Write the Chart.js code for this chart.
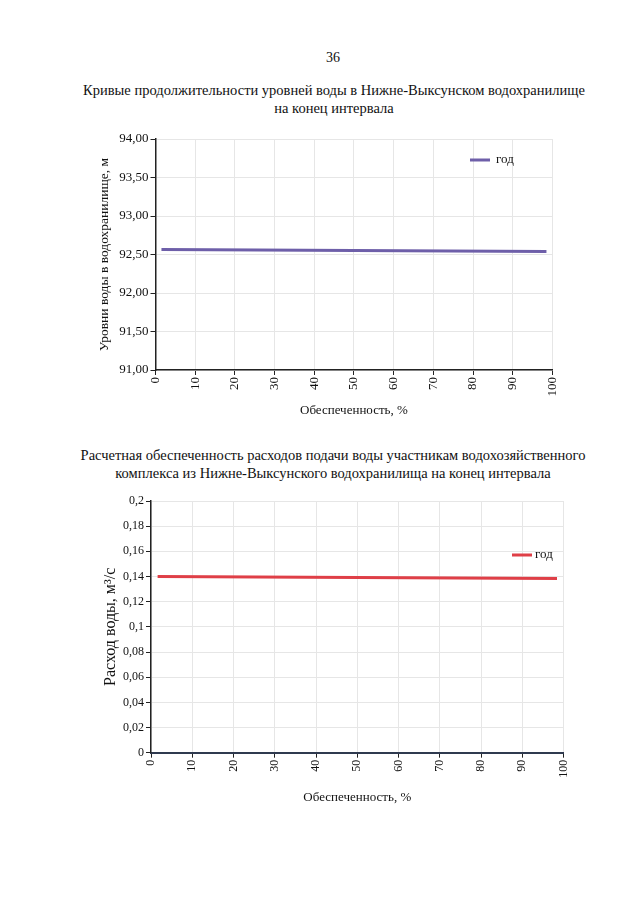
<!DOCTYPE html>
<html><head><meta charset="utf-8">
<script src="https://cdn.jsdelivr.net/npm/chart.js@4.4.0/dist/chart.umd.min.js"></script>
<style>
html,body{margin:0;padding:0;background:#fff;width:640px;height:901px;overflow:hidden;font-family:"Liberation Serif","Times New Roman",serif;color:#111;}
.t{position:absolute;left:0;width:640px;text-align:center;font-size:14.5px;line-height:17.5px;}
canvas{position:absolute;}
</style></head><body>
<div class="t" style="top:49px;font-size:14px;left:13px">36</div>
<div class="t" style="top:82px;left:14px">Кривые продолжительности уровней воды в Нижне-Выксунском водохранилище<br>на конец интервала</div>
<div class="t" style="top:447px;left:13px">Расчетная обеспеченность расходов подачи воды участникам водохозяйственного<br>комплекса из Нижне-Выксунского водохранилища на конец интервала</div>
<canvas id="c1" width="490" height="300" style="left:80px;top:125px"></canvas>
<canvas id="c2" width="500" height="330" style="left:80px;top:490px"></canvas>
<script>
// ---- data ----
const seriesLabel = 'год';
const xTickLabels = ['0','10','20','30','40','50','60','70','80','90','100'];
const levelX = [1.5, 50, 98.5];
const levelY = [92.565, 92.553, 92.540];
const levelTicks = ['91,00','91,50','92,00','92,50','93,00','93,50','94,00'];
const flowX = [1.6, 50, 98.4];
const flowY = [0.1400, 0.1392, 0.1384];
const flowTicks = ['0','0,02','0,04','0,06','0,08','0,1','0,12','0,14','0,16','0,18','0,2'];

const FONT = '"Liberation Serif","Times New Roman",serif';

function legendPlugin(dx, dy, gap, size){
  return {
    id:'inlegend',
    afterDraw(chart){
      const ca = chart.chartArea, ctx = chart.ctx, ds = chart.data.datasets[0];
      const x = ca.left + dx, y = ca.top + dy;
      ctx.save();
      ctx.strokeStyle = ds.borderColor; ctx.lineWidth = 3;
      ctx.beginPath(); ctx.moveTo(x, y); ctx.lineTo(x+20, y); ctx.stroke();
      ctx.fillStyle = '#111'; ctx.font = size + 'px ' + FONT;
      ctx.textBaseline = 'middle'; ctx.textAlign = 'left';
      ctx.fillText(ds.label, x + gap, y);
      ctx.restore();
    }
  };
}

function makeChart(id, xs, ys, color, yMin, yMax, yStep, yLabels, yTitle, o){
  const pts = xs.map((x,i)=>({x:x, y:ys[i]}));
  return new Chart(document.getElementById(id), {
    type:'line',
    data:{datasets:[{label:seriesLabel, data:pts, borderColor:color, borderWidth:3, pointRadius:0, tension:0, fill:false}]},
    options:{
      responsive:false, animation:false,
      layout:{padding:{top:o.padTop, right:o.padRight, left:0, bottom:0}},
      plugins:{legend:{display:false}, tooltip:{enabled:false}},
      scales:{
        x:{type:'linear', min:0, max:100,
          ticks:{stepSize:10, minRotation:90, maxRotation:90, padding:2, color:'#111',
            font:{family:FONT, size:o.xTickSize}, callback:(v,i)=>xTickLabels[i]},
          grid:{color:'#e6e6e6', lineWidth:1, tickColor:'#222', tickLength:5, drawTicks:true},
          border:{color:o.xBorder, width:o.xBorderW},
          title:{display:true, text:'Обеспеченность, %', color:'#111', font:{family:FONT, size:13}, padding:{top:0,bottom:o.xTitlePad}},
          afterFit(s){ s.height = o.xH; }
        },
        y:{type:'linear', min:yMin, max:yMax,
          ticks:{stepSize:yStep, padding:2, color:'#111', font:{family:FONT, size:o.yTickSize}, callback:(v,i)=>yLabels[i]},
          grid:{color:'#e6e6e6', lineWidth:1, tickColor:'#222', tickLength:5},
          border:{color:'#222', width:1.5},
          title:{display:true, text:yTitle, color:'#111', font:{family:FONT, size:o.yTitleSize}, padding:{top:o.yTitlePad,bottom:0}},
          afterFit(s){ s.width = o.yW; }
        }
      }
    },
    plugins:[legendPlugin(o.legX, o.legY, o.legGap, o.legSize)]
  });
}

makeChart('c1', levelX, levelY, '#6e5fa9', 91, 94, 0.5, levelTicks, 'Уровни воды в водохранилище, м',
  {padTop:14, padRight:17, xH:55, yW:75.5, xTitlePad:7, yTitlePad:16, yTitleSize:13.5, xTickSize:13, yTickSize:13, legX:314.5, legY:21, legGap:26, legSize:13, xBorder:'#222', xBorderW:1.5});
makeChart('c2', flowX, flowY, '#df3f47', 0, 0.2, 0.02, flowTicks, 'Расход воды, м³/с',
  {padTop:11, padRight:13.3, xH:67.3, yW:71, xTitlePad:15, yTitlePad:21, yTitleSize:16, xTickSize:12, yTickSize:12, legX:361, legY:54, legGap:23, legSize:13, xBorder:'#2f3a4f', xBorderW:2});
</script>
</body></html>
